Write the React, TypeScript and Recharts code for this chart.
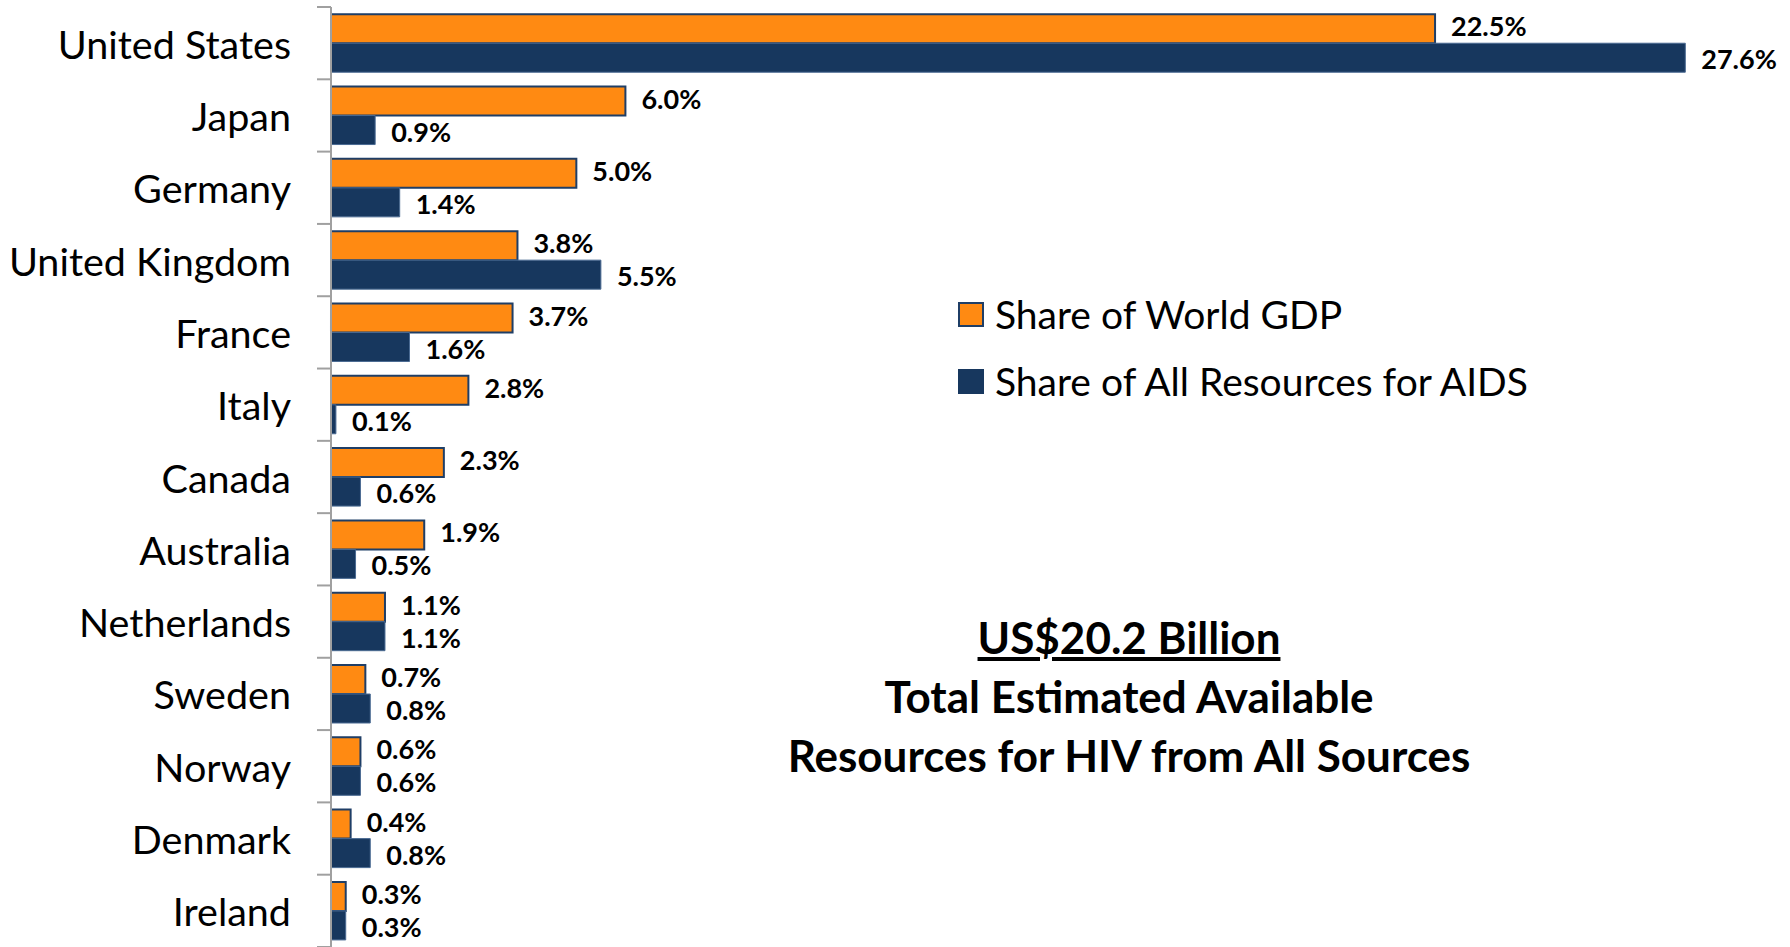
import { BarChart, Bar, XAxis, YAxis, LabelList } from "recharts";

const countries = [
  "United States",
  "Japan",
  "Germany",
  "United Kingdom",
  "France",
  "Italy",
  "Canada",
  "Australia",
  "Netherlands",
  "Sweden",
  "Norway",
  "Denmark",
  "Ireland",
];
const gdpShare = [22.5, 6.0, 5.0, 3.8, 3.7, 2.8, 2.3, 1.9, 1.1, 0.7, 0.6, 0.4, 0.3];
const aidsShare = [27.6, 0.9, 1.4, 5.5, 1.6, 0.1, 0.6, 0.5, 1.1, 0.8, 0.6, 0.8, 0.3];
const legendLabels = ["Share of World GDP", "Share of All Resources for AIDS"];

const data = countries.map((country, i) => ({
  country,
  gdp: gdpShare[i],
  aids: aidsShare[i],
}));

const W = 1790;
const H = 947;
const TOP = 7;
const BOTTOM = 0;
const AXIS_W = 331;
const ORANGE = "#FF8A12";
const NAVY = "#17375E";
const FONT = "Lato, 'Open Sans', sans-serif";

const band = (H - TOP - BOTTOM) / countries.length;

const CountryTick = (props: any) => {
  const { y, payload, index } = props;
  return (
    <g>
      <line x1={AXIS_W - 14} x2={AXIS_W} y1={y - band / 2} y2={y - band / 2} stroke="#A0A0A0" strokeWidth={2} />
      {index === countries.length - 1 && (
        <line x1={AXIS_W - 14} x2={AXIS_W} y1={y + band / 2} y2={y + band / 2} stroke="#A0A0A0" strokeWidth={2} />
      )}
      <text
        x={291}
        y={y}
        textAnchor="end"
        dominantBaseline="central"
        fontSize={39.5}
        fontFamily={FONT}
        fill="#000"
      >
        {payload.value}
      </text>
    </g>
  );
};

const fmt = (v: any) => `${Number(v).toFixed(1)}%`;

export default function App() {
  return (
    <div style={{ position: "absolute", left: 0, top: 0, width: W, height: H, background: "#fff" }}>
      <BarChart
        width={W}
        height={H}
        data={data}
        layout="vertical"
        margin={{ top: TOP, right: 36, bottom: BOTTOM, left: 0 }}
        barCategoryGap="10%"
        barGap={0}
      >
        <XAxis type="number" domain={[0, 29]} hide />
        <YAxis
          type="category"
          dataKey="country"
          width={AXIS_W}
          axisLine={{ stroke: "#A0A0A0", strokeWidth: 2 }}
          tickLine={false}
          tick={<CountryTick />}
          interval={0}
        />
        <Bar dataKey="gdp" fill={ORANGE} stroke="#1F3E66" strokeWidth={2} isAnimationActive={false}>
          <LabelList
            dataKey="gdp"
            position="right"
            offset={16}
            formatter={fmt}
            fill="#000"
            fontSize={27}
            fontWeight="bold"
            fontFamily={FONT}
            dy={-2}
          />
        </Bar>
        <Bar dataKey="aids" fill={NAVY} stroke="#4A6A92" strokeWidth={1} isAnimationActive={false}>
          <LabelList
            dataKey="aids"
            position="right"
            offset={16}
            formatter={fmt}
            fill="#000"
            fontSize={27}
            fontWeight="bold"
            fontFamily={FONT}
            dy={2}
          />
        </Bar>
      </BarChart>
      <div style={{ position: "absolute", left: 958, top: 291, fontFamily: FONT, fontSize: 39, color: "#000" }}>
        {legendLabels.map((label, i) => (
          <div key={i} style={{ display: "flex", alignItems: "center", height: 46, marginBottom: i === 0 ? 21 : 0 }}>
            <div
              style={{
                width: 22,
                height: 21,
                background: i === 0 ? ORANGE : NAVY,
                border: `2px solid ${i === 0 ? "#1F3E66" : NAVY}`,
                marginRight: 11,
              }}
            />
            <span style={{ whiteSpace: "nowrap" }}>{label}</span>
          </div>
        ))}
      </div>
      <div
        style={{
          position: "absolute",
          left: 729,
          width: 800,
          top: 608,
          textAlign: "center",
          fontFamily: FONT,
          fontWeight: "bold",
          fontSize: 44,
          lineHeight: "59px",
          color: "#000",
        }}
      >
        <div style={{ textDecoration: "underline" }}>US$20.2 Billion</div>
        <div>Total Estimated Available</div>
        <div>Resources for HIV from All Sources</div>
      </div>
    </div>
  );
}
